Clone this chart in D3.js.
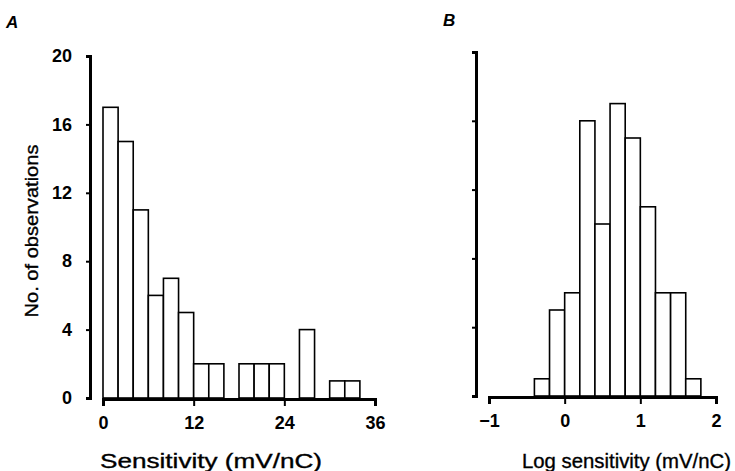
<!DOCTYPE html>
<html>
<head>
<meta charset="utf-8">
<script src="https://cdn.jsdelivr.net/npm/d3@7"></script>
<style>
  html, body { margin: 0; padding: 0; background: #fff; }
  svg { display: block; }
  .tick text { font-family: "Liberation Sans", Arial, sans-serif; font-weight: bold; font-size: 18px; fill: #000; }
  .title { font-family: "Liberation Sans", Arial, sans-serif; font-size: 20px; fill: #000; stroke: #000; stroke-width: 0.35px; }
  .panel { font-family: "Liberation Sans", Arial, sans-serif; font-weight: bold; font-style: italic; font-size: 17px; fill: #000; }
</style>
</head>
<body>
<svg id="chart" width="735" height="471"></svg>
<script>
// Histogram A: sensitivity, bins of 2 mV/nC starting at 0
const sensBinStart = [0, 2, 4, 6, 8, 10, 12, 14, 16, 18, 20, 22, 24, 26, 28, 30, 32];
const sensCounts   = [17, 15, 11, 6, 7, 5, 2, 2, 0, 2, 2, 2, 0, 4, 0, 1, 1];
const sensBinWidth = 2;
const sensTicks = [0, 12, 24, 36];

// Histogram B: log sensitivity, bins of 0.2 starting at -0.4
const logBinStart = [-0.4, -0.2, 0, 0.2, 0.4, 0.6, 0.8, 1.0, 1.2, 1.4, 1.6];
const logCounts   = [1, 5, 6, 16, 10, 17, 15, 11, 6, 6, 1];
const logBinWidth = 0.2;
const logTicks = [-1, 0, 1, 2];

const countTicks = [0, 4, 8, 12, 16, 20];

const svg = d3.select("#chart");

function drawPanel(opts) {
  const x = d3.scaleLinear().domain(opts.xDomain).range(opts.xRange);
  const y = d3.scaleLinear().domain([0, 20]).range(opts.yRange);

  // bars
  const bars = opts.starts.map((s, i) => ({ x0: s, x1: s + opts.width, n: opts.counts[i] }))
    .filter(d => d.n > 0);
  svg.append("g").selectAll("rect").data(bars).join("rect")
    .attr("x", d => x(d.x0))
    .attr("y", d => y(d.n))
    .attr("width", d => x(d.x1) - x(d.x0))
    .attr("height", d => y(0) - y(d.n))
    .attr("fill", "#fff")
    .attr("stroke", "#000")
    .attr("stroke-width", 1.6);

  // y axis
  const yAxis = d3.axisLeft(y).tickValues(countTicks).tickSize(4).tickPadding(opts.yLabels ? 14 : 0);
  if (!opts.yLabels) yAxis.tickFormat("");
  const gy = svg.append("g").attr("transform", `translate(${opts.yAxisX},0)`).call(yAxis);
  gy.select(".domain").attr("stroke-width", 3).attr("stroke", "#000");
  gy.selectAll(".tick line").attr("stroke-width", 2).attr("stroke", "#000");

  // x axis
  const xAxis = d3.axisBottom(x).tickValues(opts.xTicks).tickSize(7).tickPadding(10)
    .tickFormat(d => d < 0 ? "\u2212" + Math.abs(d) : d);
  const gx = svg.append("g").attr("transform", `translate(0,${opts.xAxisY})`).call(xAxis);
  gx.select(".domain").attr("stroke-width", 3).attr("stroke", "#000");
  gx.selectAll(".tick line").attr("stroke-width", 2).attr("stroke", "#000");

  // x title
  svg.append("text").attr("class", "title")
    .attr("x", opts.xTitleX).attr("y", 468)
    .attr("textLength", opts.xTitleLen)
    .attr("lengthAdjust", "spacingAndGlyphs")
    .text(opts.xTitle);

  // panel letter
  svg.append("text").attr("class", "panel")
    .attr("x", opts.letterX).attr("y", opts.letterY)
    .text(opts.letter);
}

drawPanel({
  starts: sensBinStart, counts: sensCounts, width: sensBinWidth,
  xDomain: [0, 36], xRange: [103, 375], yRange: [398, 56],
  xTicks: sensTicks, yAxisX: 90, xAxisY: 399, yLabels: true,
  xTitle: "Sensitivity (mV/nC)", xTitleX: 100, xTitleLen: 222,
  letter: "A", letterX: 6, letterY: 28
});

drawPanel({
  starts: logBinStart, counts: logCounts, width: logBinWidth,
  xDomain: [-1, 2], xRange: [489, 716], yRange: [396, 52],
  xTicks: logTicks, yAxisX: 476, xAxisY: 397, yLabels: false,
  xTitle: "Log sensitivity (mV/nC)", xTitleX: 522, xTitleLen: 209,
  letter: "B", letterX: 443, letterY: 26
});

// y title
svg.append("text").attr("class", "title")
  .attr("transform", "translate(38,231) rotate(-90)")
  .attr("text-anchor", "middle")
  .attr("textLength", 173)
  .attr("lengthAdjust", "spacingAndGlyphs")
  .style("font-size", "18px")
  .text("No. of observations");
</script>
</body>
</html>
